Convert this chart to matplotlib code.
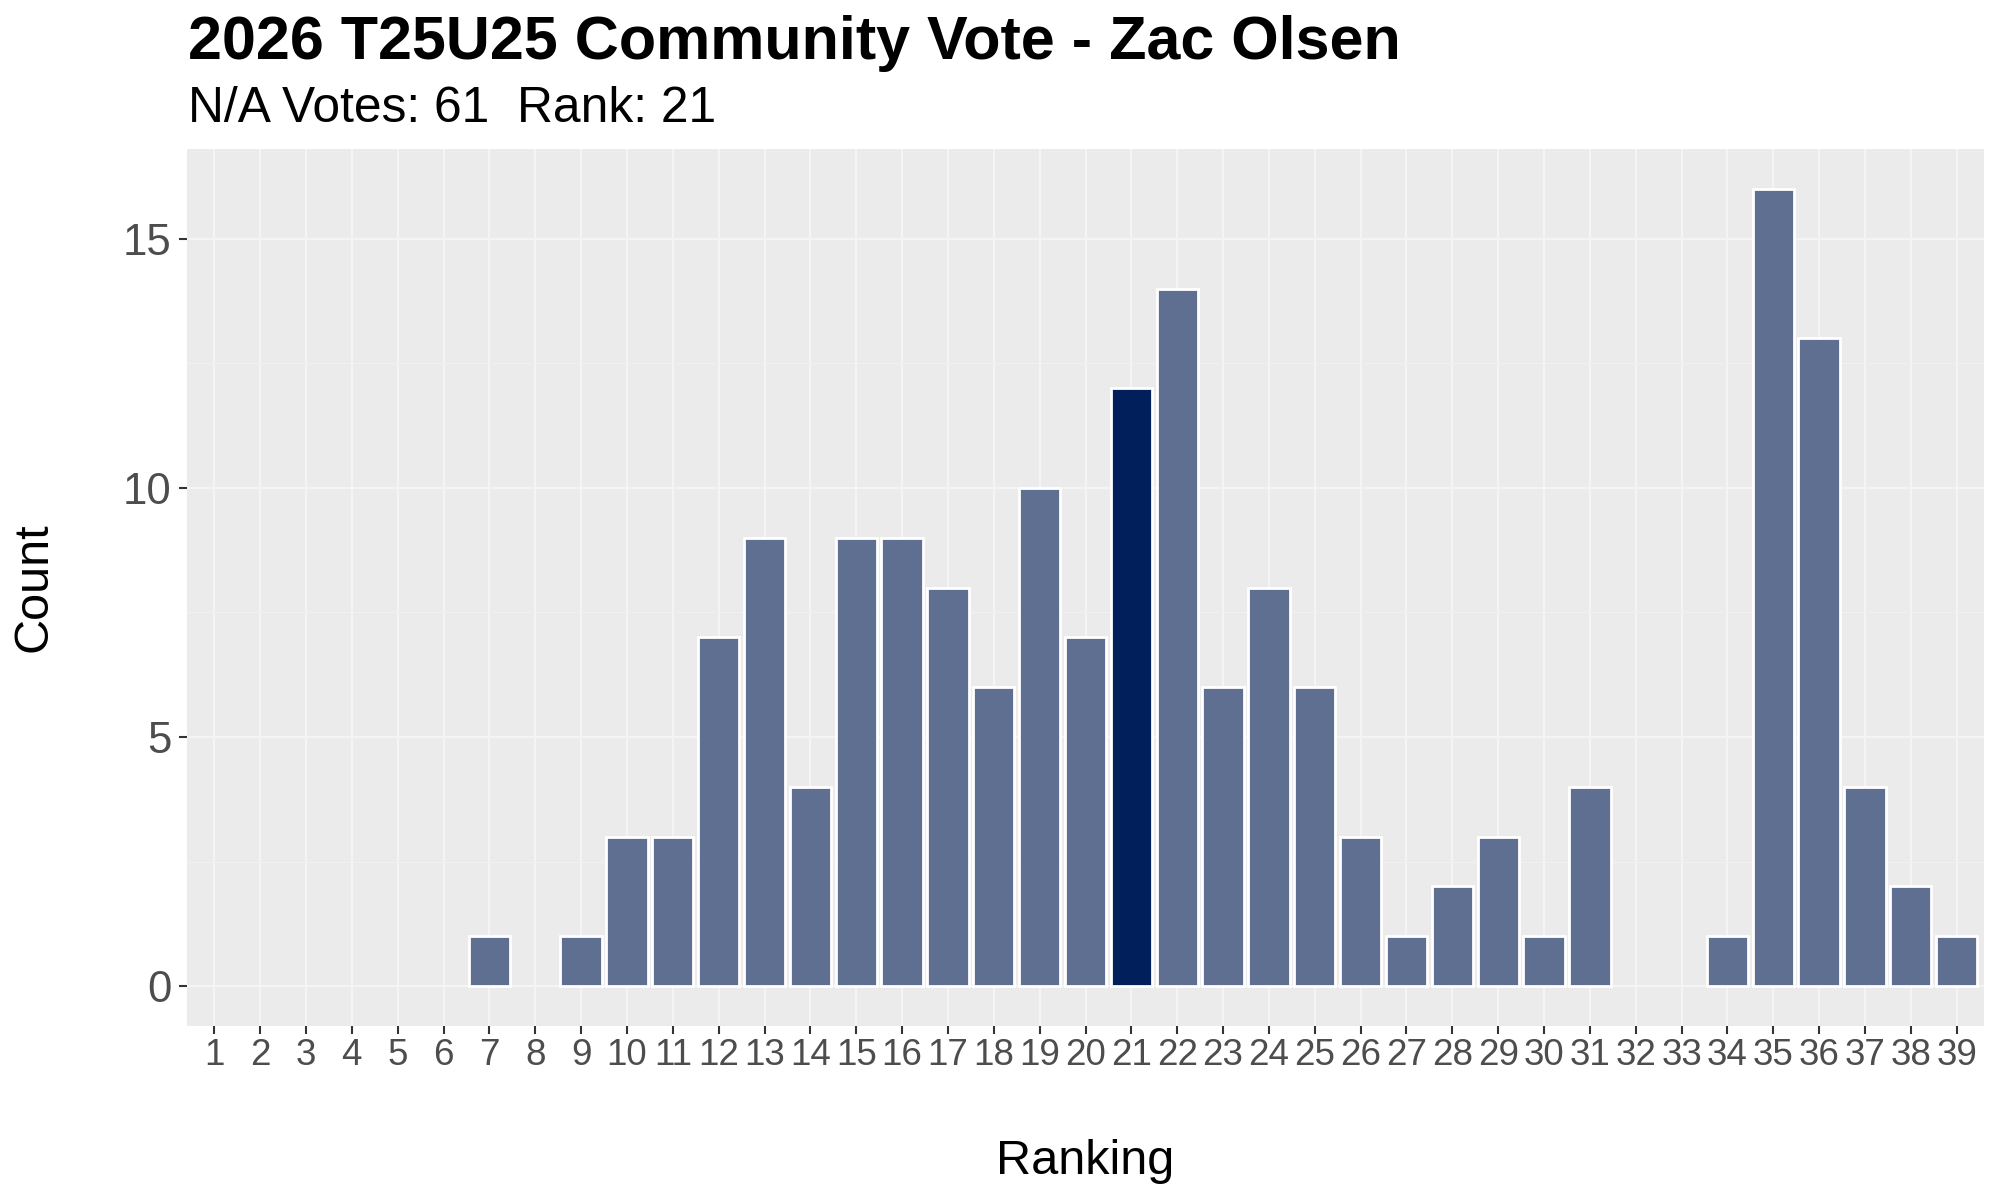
import matplotlib
matplotlib.use("Agg")
import matplotlib.pyplot as plt
from matplotlib.ticker import MultipleLocator

# ---- data ----
rankings = list(range(1, 40))
counts = [0, 0, 0, 0, 0, 0, 1, 0, 1, 3, 3, 7, 9, 4, 9, 9, 8, 6, 10, 7,
          12, 14, 6, 8, 6, 3, 1, 2, 3, 1, 4, 0, 0, 1, 16, 13, 4, 2, 1]
highlight_rank = 21
title = "2026 T25U25 Community Vote - Zac Olsen"
subtitle = "N/A Votes: 61  Rank: 21"
x_label = "Ranking"
y_label = "Count"
y_ticks = [0, 5, 10, 15]

plt.rcParams['font.family'] = ['Liberation Sans', 'DejaVu Sans']

fig = plt.figure(figsize=(20, 12), dpi=100)
fig.patch.set_facecolor('white')
ax = fig.add_axes([0.0934, 0.145, 0.8987, 0.7308])
ax.set_facecolor('#EBEBEB')

light = '#5E6F92'
dark = '#001F5B'
colors = [dark if r == highlight_rank else light for r in rankings]
lws = [2.0 if c > 0 else 0 for c in counts]
ax.bar(rankings, counts, width=0.9, color=colors, edgecolor='white',
       linewidth=lws, zorder=3)

ax.set_xlim(0.4, 39.6)
ax.set_ylim(-0.8, 16.8)
ax.set_xticks(rankings)
ax.set_xticklabels([str(r) for r in rankings])
ax.set_yticks(y_ticks)
ax.yaxis.set_minor_locator(MultipleLocator(2.5))

ax.grid(which='major', axis='both', color='#F4F4F4', linewidth=1.6, zorder=0)
ax.grid(which='minor', axis='y', color='#F1F1F1', linewidth=0.8, zorder=0)
ax.set_axisbelow(True)

for s in ax.spines.values():
    s.set_visible(False)

ax.tick_params(axis='x', which='major', length=5.8, width=1.5, color='#333333',
               labelsize=26.5, labelcolor='#4D4D4D', pad=3)
ax.tick_params(axis='y', which='major', length=5.8, width=1.5, color='#333333',
               labelsize=31.5, labelcolor='#4D4D4D', pad=5)
ax.tick_params(axis='y', which='minor', length=0)

fig.text(0.094, 1 - 59.3 / 1200, title, fontsize=43.9, fontweight='bold',
         ha='left', va='baseline', color='black')
fig.text(0.094, 1 - 121.7 / 1200, subtitle, fontsize=35.8,
         ha='left', va='baseline', color='black')

cx = 0.0934 + 0.8987 / 2
fig.text(cx, 1 - 1174 / 1200, x_label, fontsize=35, ha='center',
         va='baseline', color='black')
fig.text(34 / 2000, 1 - 587.5 / 1200, y_label, fontsize=35, ha='center',
         va='center', rotation=90, color='black')

fig.savefig('out.png', dpi=100)
